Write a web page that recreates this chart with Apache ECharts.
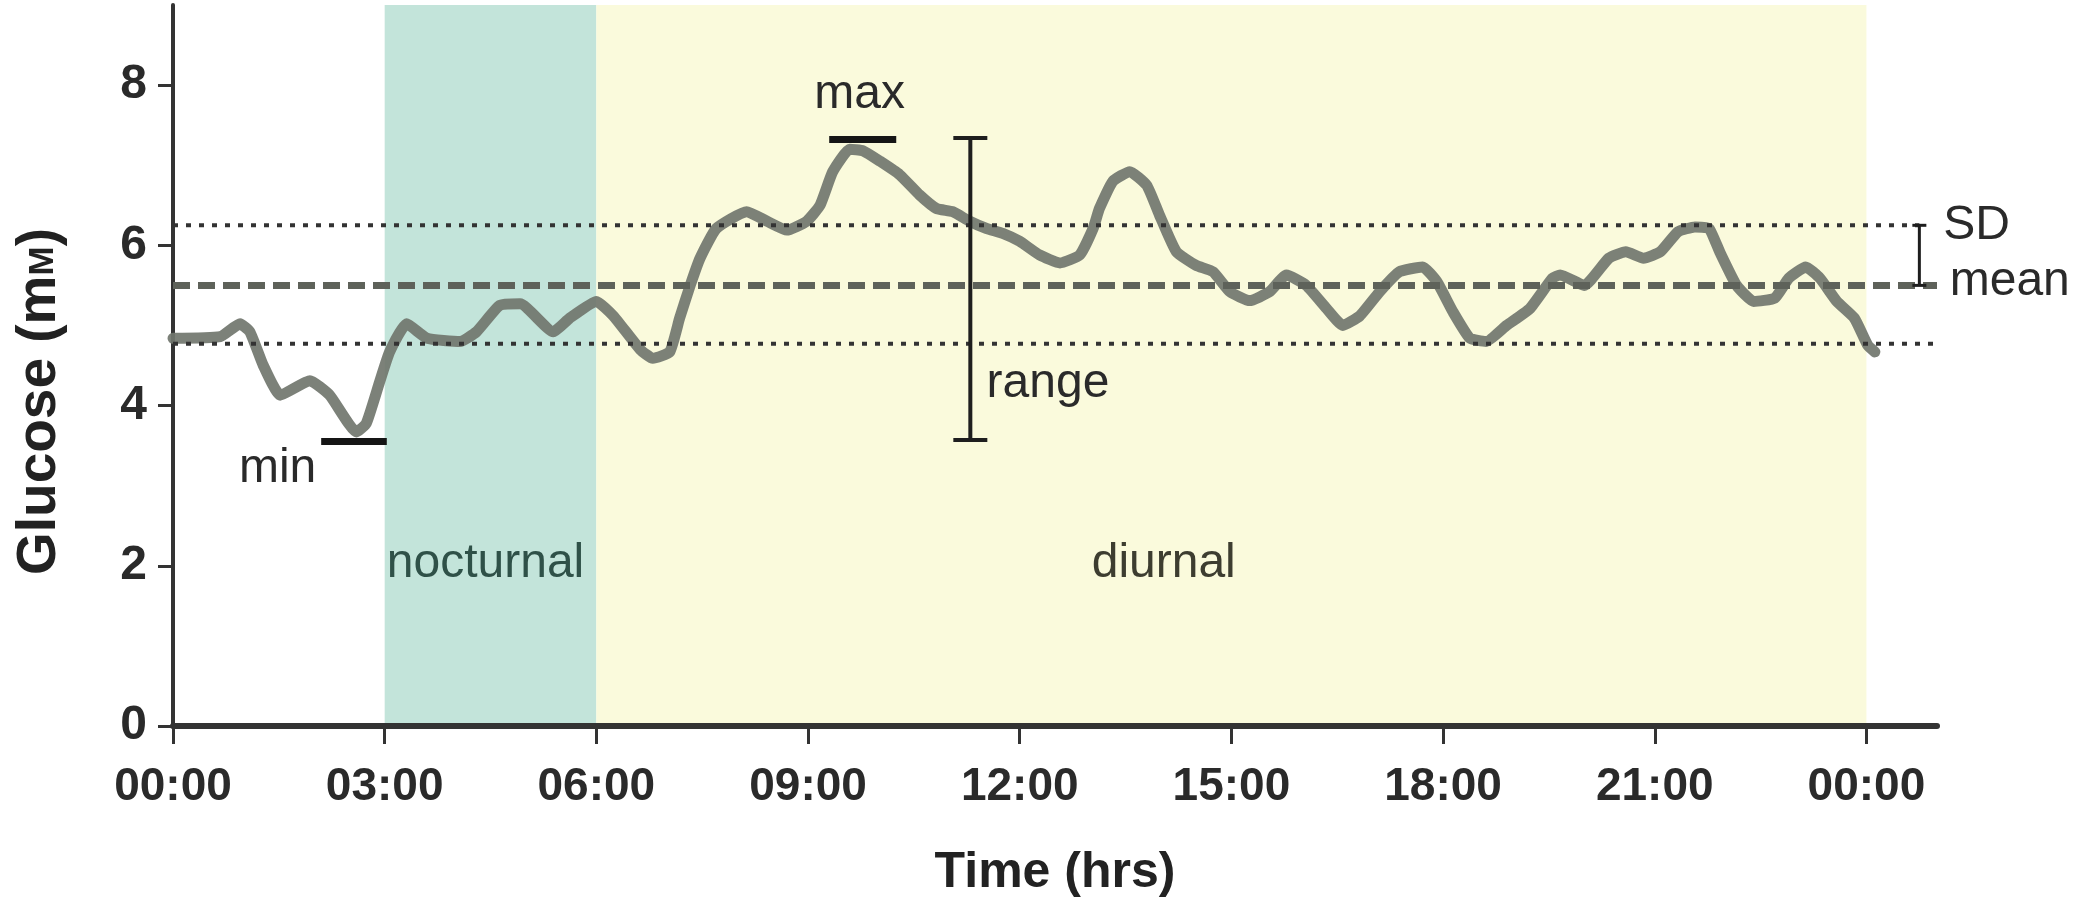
<!DOCTYPE html>
<html>
<head>
<meta charset="utf-8">
<script src="https://cdn.jsdelivr.net/npm/echarts@6/dist/echarts.min.js"></script>
<style>
html, body { margin: 0; padding: 0; background: #fff; }
#main { width: 2091px; height: 903px; }
</style>
</head>
<body>
<div id="main"></div>
<script>
// glucose trace (hours since midnight, mM)
var timeHours = [0.0, 0.67, 0.95, 1.09, 1.28, 1.52, 1.94, 2.22, 2.6, 2.74, 2.93, 3.07, 3.31, 3.6, 4.07, 4.3,
  4.63, 4.92, 5.39, 5.62, 6.0, 6.24, 6.62, 6.8, 7.04, 7.18, 7.33, 7.47, 7.7, 8.13, 8.42, 8.7, 8.98, 9.17,
  9.35, 9.59, 9.78, 10.02, 10.3, 10.58, 10.82, 11.05, 11.29, 11.53, 11.76, 12.0, 12.28, 12.57, 12.85, 13.04,
  13.13, 13.32, 13.56, 13.8, 13.98, 14.22, 14.5, 14.74, 14.98, 15.26, 15.54, 15.78, 16.06, 16.35, 16.58,
  16.82, 17.1, 17.38, 17.71, 17.91, 18.14, 18.38, 18.61, 18.9, 19.23, 19.55, 19.66, 20.0, 20.35, 20.59,
  20.84, 21.08, 21.33, 21.57, 21.77, 21.92, 22.16, 22.4, 22.7, 22.9, 23.14, 23.34, 23.58, 23.83, 24.02, 24.12];
var glucose = [4.84, 4.86, 5.02, 4.92, 4.5, 4.13, 4.31, 4.13, 3.67, 3.78, 4.3, 4.67, 5.02, 4.84, 4.8, 4.92,
  5.25, 5.27, 4.92, 5.09, 5.3, 5.12, 4.7, 4.59, 4.67, 5.09, 5.5, 5.84, 6.21, 6.42, 6.3, 6.19, 6.3, 6.5,
  6.92, 7.2, 7.18, 7.05, 6.88, 6.63, 6.46, 6.42, 6.3, 6.21, 6.15, 6.05, 5.88, 5.78, 5.88, 6.21,
  6.46, 6.8, 6.92, 6.75, 6.38, 5.92, 5.75, 5.67, 5.42, 5.31, 5.42, 5.63, 5.5, 5.21, 5.0,
  5.12, 5.42, 5.67, 5.73, 5.55, 5.17, 4.84, 4.8, 5.0, 5.21, 5.59, 5.63, 5.5, 5.84, 5.92,
  5.84, 5.92, 6.17, 6.23, 6.21, 5.92, 5.5, 5.3, 5.34, 5.59, 5.73, 5.59, 5.3, 5.09, 4.75, 4.67];

var xTickValues = [0, 3, 6, 9, 12, 15, 18, 21, 24];
var xTickLabels = ['00:00', '03:00', '06:00', '09:00', '12:00', '15:00', '18:00', '21:00', '00:00'];
var yTickValues = [0, 2, 4, 6, 8];

var meanValue = 5.5;
var sdUpper = 6.25;
var sdLower = 4.77;

var periodStart = [3, 6];
var periodEnd = [6, 24];
var periodColors = ['#c3e4da', '#fafadc'];

// [from hour, to hour, glucose]
var minMark = [2.1, 3.03, 3.55];
var maxMark = [9.3, 10.25, 7.32];
// [hour, low, high]
var rangeBar = [11.3, 3.57, 7.34];
var sdBar = [24.75, 5.5, 6.25];

var noteTexts = ['min', 'max', 'range', 'nocturnal', 'diurnal', 'SD', 'mean'];
var noteX = [2.03, 9.73, 11.53, 3.03, 13.02, 25.09, 25.18];
var noteY = [3.21, 7.88, 4.27, 2.03, 2.03, 6.24, 5.54];
var noteAlign = ['right', 'center', 'left', 'left', 'left', 'left', 'left'];
var noteColors = ['#2a2a2a', '#2a2a2a', '#2a2a2a', '#2f5148', '#3d3d30', '#2a2a2a', '#2a2a2a'];

var font = '"Liberation Sans", Arial, sans-serif';
var chart = echarts.init(document.getElementById('main'));

function errorBar(capHalf, width) {
  return function (params, api) {
    var top = api.coord([api.value(0), api.value(2)]);
    var bottom = api.coord([api.value(0), api.value(1)]);
    var style = { stroke: '#1e1e1e', lineWidth: width };
    return {
      type: 'group',
      children: [
        { type: 'line', shape: { x1: top[0], y1: top[1], x2: bottom[0], y2: bottom[1] }, style: style },
        { type: 'line', shape: { x1: top[0] - capHalf, y1: top[1], x2: top[0] + capHalf, y2: top[1] }, style: style },
        { type: 'line', shape: { x1: bottom[0] - capHalf, y1: bottom[1], x2: bottom[0] + capHalf, y2: bottom[1] }, style: style }
      ]
    };
  };
}

function flatBar(params, api) {
  var a = api.coord([api.value(0), api.value(2)]);
  var b = api.coord([api.value(1), api.value(2)]);
  return {
    type: 'line',
    shape: { x1: a[0], y1: a[1], x2: b[0], y2: b[1] },
    style: { stroke: '#151515', lineWidth: 7 }
  };
}

chart.setOption({
  animation: false,
  backgroundColor: '#ffffff',
  grid: { left: 173, right: 154, top: 5, bottom: 176 },
  xAxis: {
    type: 'value',
    min: 0,
    max: 25,
    name: 'Time (hrs)',
    nameLocation: 'middle',
    nameGap: 122,
    nameTextStyle: { fontFamily: font, fontSize: 50, fontWeight: 'bold', color: '#222' },
    splitLine: { show: false },
    axisLine: { lineStyle: { color: '#333', width: 6 } },
    axisTick: { customValues: xTickValues, length: 18, lineStyle: { color: '#333', width: 3 } },
    axisLabel: {
      customValues: xTickValues,
      margin: 38,
      fontFamily: font, fontSize: 46, fontWeight: 'bold', color: '#2a2a2a',
      formatter: function (v) { return xTickLabels[xTickValues.indexOf(v)]; }
    }
  },
  yAxis: {
    type: 'value',
    min: 0,
    max: 9,
    name: '{a|Glucose (m}{b|M}{a|)}',
    nameLocation: 'middle',
    nameRotate: 90,
    nameGap: 106,
    nameTextStyle: {
      padding: [0, 72, 0, 0],
      rich: {
        a: { fontFamily: font, fontSize: 55, fontWeight: 'bold', color: '#222' },
        b: { fontFamily: font, fontSize: 35, fontWeight: 'bold', color: '#222', padding: [8, 0, 0, 0] }
      }
    },
    splitLine: { show: false },
    axisLine: { show: true, lineStyle: { color: '#333', width: 4 } },
    axisTick: { show: true, customValues: yTickValues, length: 15, lineStyle: { color: '#333', width: 3 } },
    axisLabel: {
      customValues: yTickValues,
      margin: 26,
      fontFamily: font, fontSize: 48, fontWeight: 'bold', color: '#2a2a2a'
    }
  },
  series: [
    {
      type: 'custom',
      z: 0,
      data: periodStart.map(function (s, i) { return [s, periodEnd[i], i]; }),
      renderItem: function (params, api) {
        var a = api.coord([api.value(0), 9]);
        var b = api.coord([api.value(1), 0]);
        return {
          type: 'rect',
          shape: { x: a[0], y: a[1], width: b[0] - a[0], height: b[1] - a[1] },
          style: { fill: periodColors[api.value(2)] }
        };
      }
    },
    {
      type: 'line',
      z: 2,
      symbol: 'none',
      smooth: 0.15,
      data: timeHours.map(function (t, i) { return [t, glucose[i]]; }),
      lineStyle: { color: '#71766e', width: 11, cap: 'round', join: 'round', opacity: 0.92 }
    },
    {
      type: 'line',
      z: 3,
      symbol: 'none',
      data: [[0, sdUpper], [sdBar[0], sdUpper]],
      lineStyle: { color: '#333', width: 4, type: [5, 8] }
    },
    {
      type: 'line',
      z: 3,
      symbol: 'none',
      data: [[0, meanValue], [25, meanValue]],
      lineStyle: { color: '#5e625a', width: 7, type: [17, 8] }
    },
    {
      type: 'line',
      z: 3,
      symbol: 'none',
      data: [[0, sdLower], [25, sdLower]],
      lineStyle: { color: '#333', width: 4, type: [5, 8] }
    },
    { type: 'custom', z: 4, data: [rangeBar], renderItem: errorBar(17, 4) },
    { type: 'custom', z: 4, data: [sdBar], renderItem: errorBar(7, 3) },
    { type: 'custom', z: 4, data: [minMark, maxMark], renderItem: flatBar },
    {
      type: 'custom',
      z: 5,
      data: noteX.map(function (x, i) { return [x, noteY[i]]; }),
      renderItem: function (params, api) {
        var p = api.coord([api.value(0), api.value(1)]);
        var i = params.dataIndex;
        return {
          type: 'text',
          x: p[0],
          y: p[1],
          style: {
            text: noteTexts[i],
            fill: noteColors[i],
            font: '48px ' + font,
            align: noteAlign[i],
            verticalAlign: 'middle'
          }
        };
      }
    }
  ]
});
</script>
</body>
</html>
